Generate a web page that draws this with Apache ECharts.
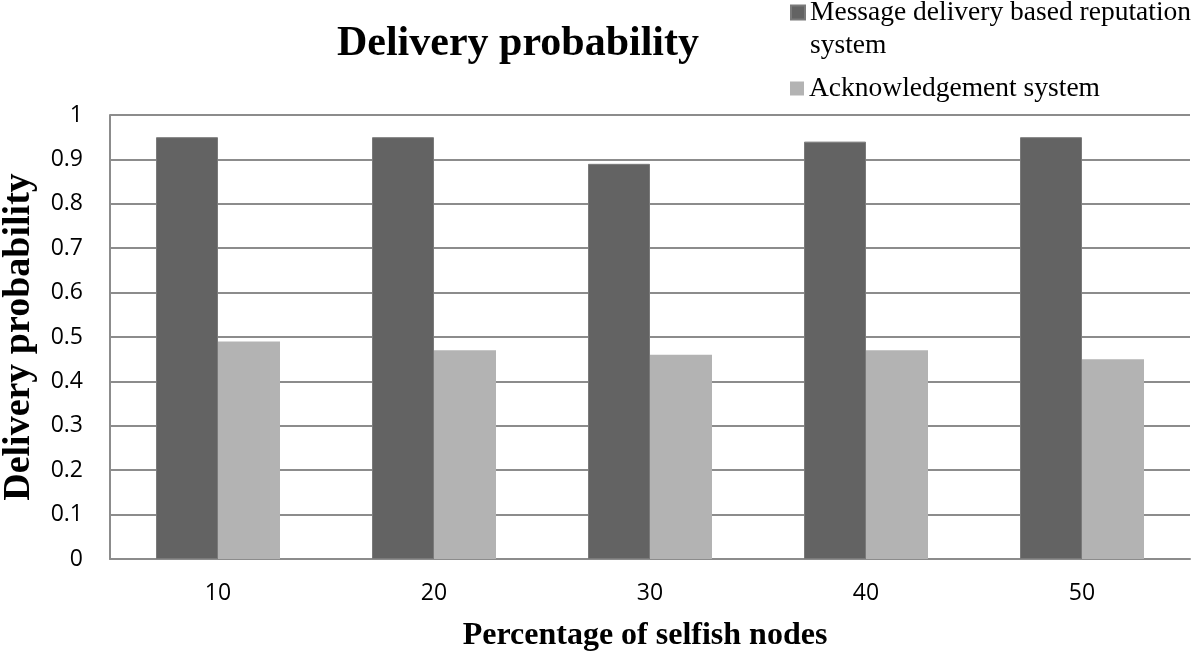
<!DOCTYPE html>
<html><head><meta charset="utf-8">
<script src="https://cdn.jsdelivr.net/npm/echarts@6/dist/echarts.min.js"></script>
<style>html,body{margin:0;padding:0;background:#fff}#c{width:1200px;height:654px}</style>
</head><body><div id="c"></div>
<script>
const categories = ['10', '20', '30', '40', '50'];
const reputationValues = [0.95, 0.95, 0.89, 0.94, 0.95];
const ackValues = [0.49, 0.47, 0.46, 0.47, 0.45];
const seriesNames = ['Message delivery based reputation\nsystem', 'Acknowledgement system'];
const yTicks = { min: 0, max: 1, interval: 0.1 };

const chart = echarts.init(document.getElementById('c'), null, { renderer: 'canvas' });
const serif = "'Liberation Serif','DejaVu Serif',serif";
const sans = "'Open Sans','Liberation Sans',sans-serif";
const legendText = { fontFamily: serif, fontSize: 27.5, color: '#000', lineHeight: 33 };
chart.setOption({
  animation: false,
  backgroundColor: '#fff',
  title: {
    text: 'Delivery probability', left: 513, top: 18, textAlign: 'center',
    textStyle: { fontFamily: serif, fontSize: 42, fontWeight: 'bold', color: '#000' }
  },
  legend: [
    { orient: 'vertical', left: 790, top: -37, padding: 0, itemWidth: 14, itemHeight: 14,
      icon: 'rect', data: [seriesNames[0]], formatter: name => '\n' + name,
      textStyle: legendText },
    { orient: 'vertical', left: 790, top: 72, padding: 0, itemWidth: 14, itemHeight: 14,
      icon: 'rect', data: [seriesNames[1]], textStyle: legendText }
  ],
  grid: { left: 110, right: 10, top: 115, bottom: 95, containLabel: false, outerBoundsMode: 'none' },
  xAxis: {
    type: 'category', data: categories,
    name: 'Percentage of selfish nodes', nameLocation: 'middle', nameGap: 61,
    nameTextStyle: { fontFamily: serif, fontSize: 32, fontWeight: 'bold', color: '#000', padding: [0, 10, 0, 0] },
    axisLine: { lineStyle: { color: '#8c8c8c', width: 2 } },
    axisTick: { show: false },
    axisLabel: { fontFamily: sans, fontSize: 23, color: '#000', margin: 23 }
  },
  yAxis: {
    type: 'value', min: yTicks.min, max: yTicks.max, interval: yTicks.interval,
    name: 'Delivery probability', nameLocation: 'middle', nameGap: 72,
    nameTextStyle: { fontFamily: serif, fontSize: 38, fontWeight: 'bold', color: '#000' },
    axisLine: { show: true, lineStyle: { color: '#8c8c8c', width: 2 } },
    axisTick: { show: false },
    splitLine: { lineStyle: { color: '#8c8c8c', width: 2 } },
    axisLabel: { fontFamily: sans, fontSize: 23, color: '#000', margin: 27,
      formatter: v => String(Math.round(v * 10) / 10) }
  },
  series: [
    { name: seriesNames[0], type: 'bar', data: reputationValues, barWidth: 62, barGap: '0%',
      itemStyle: { color: '#636363', borderColor: '#7a7a7a', borderWidth: 1 } },
    { name: seriesNames[1], type: 'bar', data: ackValues, barWidth: 62, barGap: '0%',
      itemStyle: { color: '#b3b3b3' } }
  ]
});
</script></body></html>
